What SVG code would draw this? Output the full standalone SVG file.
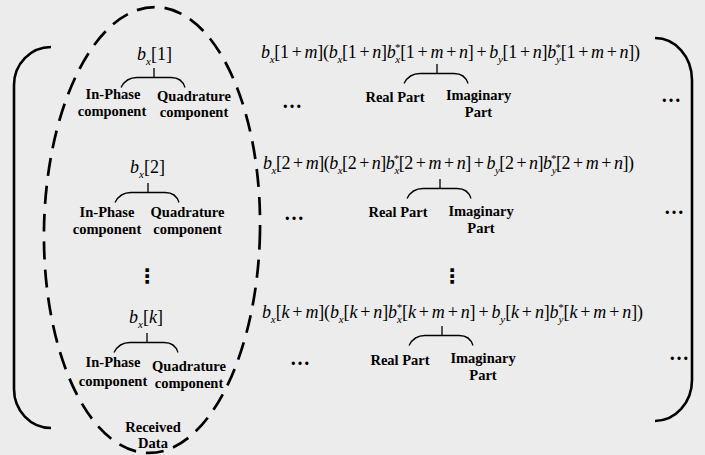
<svg xmlns="http://www.w3.org/2000/svg" width="705" height="455" viewBox="0 0 705 455">
<style>
.m{font-family:"Liberation Serif",serif;font-size:18px;fill:#000}
.i{font-style:italic}
.s{font-size:11px;font-style:italic}
.sp{font-size:11px;font-style:normal}
.l{font-family:"Liberation Serif",serif;font-size:14.5px;font-weight:bold;text-anchor:middle;fill:#000}
.d{font-family:"Liberation Serif",serif;font-size:20px;font-weight:bold;text-anchor:middle;fill:#000}
.v{font-family:"DejaVu Sans",sans-serif;font-size:20px;font-weight:bold;text-anchor:middle;fill:#000}
.br{fill:none;stroke:#000;stroke-width:2.6}
.bc{fill:none;stroke:#000;stroke-width:1.3}
</style>
<defs>
<path id="brace" d="M0,0 L0,9.5 M-33,19.5 Q-28,9.5 -17,9.5 L17,9.5 Q28,9.5 31,19.5"/>
</defs>
<rect width="705" height="455" fill="#ececec"/>
<g id="bracket-left"><path class="br" d="M51,47 A37,38 0 0 0 14,85 L14,389 A37,39 0 0 0 51,428"/></g>
<g id="bracket-right"><path class="br" d="M655,38 A37,42 0 0 1 692,80 L692,380 A37,41 0 0 1 655,421"/></g>
<g id="received-data">
<ellipse cx="152" cy="230" rx="108" ry="223" transform="rotate(1 152 230)" fill="none" stroke="#000" stroke-width="2.7" stroke-dasharray="18 10"/>
<text class="l" x="153" y="432">Received</text>
<text class="l" x="153" y="448">Data</text>
</g>
<g id="connectors" class="bc">
<use href="#brace" x="154" y="68"/>
<use href="#brace" x="148" y="183"/>
<use href="#brace" x="147" y="333"/>
<use href="#brace" x="437" y="64"/>
<use href="#brace" x="440" y="179"/>
<use href="#brace" x="442" y="326"/>
</g>
<g id="sample-1">
<text class="m" x="154.5" y="60" text-anchor="middle"><tspan class="i">b</tspan><tspan class="s" dy="5">x</tspan><tspan dy="-5">[1]</tspan></text>
<text class="l" x="113" y="99">In-Phase</text>
<text class="l" x="112" y="116">component</text>
<text class="l" x="194" y="101">Quadrature</text>
<text class="l" x="194" y="117">component</text>
</g>
<g id="sample-2">
<text class="m" x="147.5" y="173" text-anchor="middle"><tspan class="i">b</tspan><tspan class="s" dy="5">x</tspan><tspan dy="-5">[2]</tspan></text>
<text class="l" x="107" y="217">In-Phase</text>
<text class="l" x="107" y="234">component</text>
<text class="l" x="187.5" y="217">Quadrature</text>
<text class="l" x="187.5" y="234">component</text>
<text class="v" x="147" y="283">⋮</text>
</g>
<g id="sample-k">
<text class="m" x="146" y="323" text-anchor="middle"><tspan class="i">b</tspan><tspan class="s" dy="5">x</tspan><tspan dy="-5">[</tspan><tspan class="i">k</tspan><tspan>]</tspan></text>
<text class="l" x="113" y="367">In-Phase</text>
<text class="l" x="113" y="385.5">component</text>
<text class="l" x="189" y="370.5">Quadrature</text>
<text class="l" x="189" y="388">component</text>
</g>
<g id="product-1">
<text class="m" x="261" y="58" textLength="379" lengthAdjust="spacing"><tspan class="i">b</tspan><tspan class="s" dy="5">x</tspan><tspan dy="-5">[1</tspan><tspan dx="3">+</tspan><tspan class="i" dx="3">m</tspan><tspan>](</tspan><tspan class="i">b</tspan><tspan class="s" dy="5">x</tspan><tspan dy="-5">[1</tspan><tspan dx="3">+</tspan><tspan class="i" dx="3">n</tspan><tspan>]</tspan><tspan class="i">b</tspan><tspan class="s" dy="5">x</tspan><tspan class="sp" dx="-5" dy="-12">*</tspan><tspan dy="7">[1</tspan><tspan dx="3">+</tspan><tspan class="i" dx="3">m</tspan><tspan dx="3">+</tspan><tspan class="i" dx="3">n</tspan><tspan>]</tspan><tspan dx="3">+</tspan><tspan class="i" dx="3">b</tspan><tspan class="s" dy="5">y</tspan><tspan dy="-5">[1</tspan><tspan dx="3">+</tspan><tspan class="i" dx="3">n</tspan><tspan>]</tspan><tspan class="i">b</tspan><tspan class="s" dy="5">y</tspan><tspan class="sp" dx="-5" dy="-12">*</tspan><tspan dy="7">[1</tspan><tspan dx="3">+</tspan><tspan class="i" dx="3">m</tspan><tspan dx="3">+</tspan><tspan class="i" dx="3">n</tspan><tspan>])</tspan></text>
<text class="l" x="395" y="102">Real Part</text>
<text class="l" x="478.5" y="100">Imaginary</text>
<text class="l" x="478.5" y="117">Part</text>
<text class="d" x="292" y="108">…</text>
<text class="d" x="671" y="102">…</text>
</g>
<g id="product-2">
<text class="m" x="263" y="169" textLength="371" lengthAdjust="spacing"><tspan class="i">b</tspan><tspan class="s" dy="5">x</tspan><tspan dy="-5">[2</tspan><tspan dx="3">+</tspan><tspan class="i" dx="3">m</tspan><tspan>](</tspan><tspan class="i">b</tspan><tspan class="s" dy="5">x</tspan><tspan dy="-5">[2</tspan><tspan dx="3">+</tspan><tspan class="i" dx="3">n</tspan><tspan>]</tspan><tspan class="i">b</tspan><tspan class="s" dy="5">x</tspan><tspan class="sp" dx="-5" dy="-12">*</tspan><tspan dy="7">[2</tspan><tspan dx="3">+</tspan><tspan class="i" dx="3">m</tspan><tspan dx="3">+</tspan><tspan class="i" dx="3">n</tspan><tspan>]</tspan><tspan dx="3">+</tspan><tspan class="i" dx="3">b</tspan><tspan class="s" dy="5">y</tspan><tspan dy="-5">[2</tspan><tspan dx="3">+</tspan><tspan class="i" dx="3">n</tspan><tspan>]</tspan><tspan class="i">b</tspan><tspan class="s" dy="5">y</tspan><tspan class="sp" dx="-5" dy="-12">*</tspan><tspan dy="7">[2</tspan><tspan dx="3">+</tspan><tspan class="i" dx="3">m</tspan><tspan dx="3">+</tspan><tspan class="i" dx="3">n</tspan><tspan>])</tspan></text>
<text class="l" x="398" y="216.5">Real Part</text>
<text class="l" x="481" y="216">Imaginary</text>
<text class="l" x="481" y="233">Part</text>
<text class="d" x="294" y="220">…</text>
<text class="d" x="674" y="214">…</text>
<text class="v" x="452" y="283">⋮</text>
</g>
<g id="product-k">
<text class="m" x="262" y="318" textLength="381" lengthAdjust="spacing"><tspan class="i">b</tspan><tspan class="s" dy="5">x</tspan><tspan dy="-5">[</tspan><tspan class="i">k</tspan><tspan dx="3">+</tspan><tspan class="i" dx="3">m</tspan><tspan>](</tspan><tspan class="i">b</tspan><tspan class="s" dy="5">x</tspan><tspan dy="-5">[</tspan><tspan class="i">k</tspan><tspan dx="3">+</tspan><tspan class="i" dx="3">n</tspan><tspan>]</tspan><tspan class="i">b</tspan><tspan class="s" dy="5">x</tspan><tspan class="sp" dx="-5" dy="-12">*</tspan><tspan dy="7">[</tspan><tspan class="i">k</tspan><tspan dx="3">+</tspan><tspan class="i" dx="3">m</tspan><tspan dx="3">+</tspan><tspan class="i" dx="3">n</tspan><tspan>]</tspan><tspan dx="3">+</tspan><tspan class="i" dx="3">b</tspan><tspan class="s" dy="5">y</tspan><tspan dy="-5">[</tspan><tspan class="i">k</tspan><tspan dx="3">+</tspan><tspan class="i" dx="3">n</tspan><tspan>]</tspan><tspan class="i">b</tspan><tspan class="s" dy="5">y</tspan><tspan class="sp" dx="-5" dy="-12">*</tspan><tspan dy="7">[</tspan><tspan class="i">k</tspan><tspan dx="3">+</tspan><tspan class="i" dx="3">m</tspan><tspan dx="3">+</tspan><tspan class="i" dx="3">n</tspan><tspan>])</tspan></text>
<text class="l" x="400" y="365">Real Part</text>
<text class="l" x="483" y="362.5">Imaginary</text>
<text class="l" x="483" y="379.5">Part</text>
<text class="d" x="300" y="365">…</text>
<text class="d" x="679" y="360">…</text>
</g>
</svg>
